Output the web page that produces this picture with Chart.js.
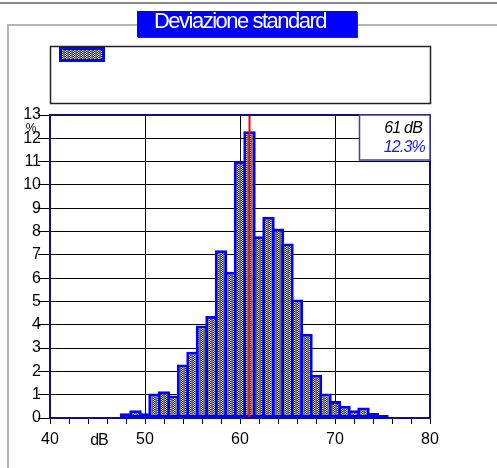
<!DOCTYPE html>
<html>
<head>
<meta charset="utf-8">
<script src="https://cdn.jsdelivr.net/npm/chart.js@4"></script>
<style>
  body { margin: 0; background: #fff; }
  #wrap { width: 497px; height: 468px; }
</style>
</head>
<body>
<div id="wrap"><canvas id="chart" width="497" height="468"></canvas></div>
<script>
// histogram data (dB class centre -> % of time)
const levels = [48, 49, 50, 51, 52, 53, 54, 55, 56, 57, 58, 59, 60, 61, 62, 63, 64, 65, 66, 67, 68, 69, 70, 71, 72, 73, 74, 75];
const percent = [0.2, 0.33, 0.2, 1.05, 1.15, 0.96, 2.3, 2.84, 3.97, 4.38, 7.2, 6.27, 11.0, 12.3, 7.8, 8.63, 8.13, 7.49, 5.08, 3.62, 1.86, 1.05, 0.73, 0.53, 0.33, 0.45, 0.21, 0.13];
const xTickLabels = [40, 50, 60, 70, 80];
const yTickLabels = [0, 1, 2, 3, 4, 5, 6, 7, 8, 9, 10, 11, 12, 13];
const peakLevel = 61;
const peakText = ['61 dB', '12.3%'];
const titleText = 'Deviazione standard';

// dithered grey fill like the original
function makePattern() {
  const c = document.createElement('canvas');
  c.width = 4; c.height = 2;
  const g = c.getContext('2d');
  const px = [['#6a6a6a', '#000', '#fff', '#7a7a7a'], ['#6a6a6a', '#fff', '#000', '#7a7a7a']];
  px.forEach((row, y) => row.forEach((col, x) => { g.fillStyle = col; g.fillRect(x, y, 1, 1); }));
  return c;
}
const ctx = document.getElementById('chart').getContext('2d');
const pattern = ctx.createPattern(makePattern(), 'repeat');

const decor = {
  id: 'decor',
  beforeDraw(chart) {
    const c = chart.ctx;
    c.save();
    // top rule
    c.fillStyle = '#8a8a8a';
    c.fillRect(0, 2, 497, 2);
    // outer grey frame
    c.fillStyle = '#b4b4b4';
    c.fillRect(7, 24, 2, 444);
    c.fillRect(7, 24, 130, 2);
    c.fillRect(357, 24, 140, 2);
    // title box
    c.fillStyle = '#333';
    c.fillRect(138, 12, 220, 26);
    c.fillStyle = '#0000ff';
    c.fillRect(137, 11, 220, 26);
    c.fillStyle = '#fff';
    c.font = '22px "Liberation Sans", Arial, sans-serif';
    c.letterSpacing = '-1.5px';
    c.textAlign = 'center';
    c.textBaseline = 'alphabetic';
    c.fillText(titleText, 240, 28);
    c.letterSpacing = '0px';
    // legend box
    c.strokeStyle = '#222';
    c.lineWidth = 1.5;
    c.strokeRect(50.5, 46.5, 380, 57);
    c.fillStyle = '#0000ff';
    c.fillRect(59, 47, 46, 15);
    c.fillStyle = pattern;
    c.fillRect(62, 50, 40, 9);
    c.restore();
  },
  afterDatasetsDraw(chart) {
    const c = chart.ctx, a = chart.chartArea;
    const xs = chart.scales.x;
    c.save();
    // peak marker
    const px = xs.getPixelForValue(peakLevel);
    c.fillStyle = '#ff0000';
    c.fillRect(px - 1, a.top, 2, a.bottom - a.top);
    // plot frame
    c.strokeStyle = '#10107a';
    c.lineWidth = 2;
    c.strokeRect(a.left, a.top, a.right - a.left, a.bottom - a.top);
    // value box
    c.fillStyle = '#fff';
    c.fillRect(359, a.top, a.right - 359, 45);
    c.strokeStyle = '#4040a0';
    c.lineWidth = 1.5;
    c.strokeRect(359.5, a.top, a.right - 359.5, 45);
    c.font = 'italic 16px "Liberation Sans", Arial, sans-serif';
    c.letterSpacing = '-0.8px';
    c.textAlign = 'right';
    c.fillStyle = '#000';
    c.fillText(peakText[0], 422, 133);
    c.fillStyle = '#1818ff';
    c.fillText(peakText[1], 425, 152);
    c.letterSpacing = '0px';
    // axis captions
    c.fillStyle = '#000';
    c.textAlign = 'center';
    c.font = '16px "Liberation Sans", Arial, sans-serif';
    c.letterSpacing = '-1px';
    c.fillText('dB', 99, 445);
    c.font = '12px "Liberation Sans", Arial, sans-serif';
    c.letterSpacing = '0px';
    c.fillText('%', 31, 132);
    c.restore();
  }
};

new Chart(ctx, {
  type: 'bar',
  data: {
    datasets: [{
      data: levels.map((l, i) => ({ x: l, y: percent[i] })),
      backgroundColor: pattern,
      borderColor: '#0000ff',
      borderWidth: 3,
      borderSkipped: false,
      barPercentage: 1.31,
      categoryPercentage: 1
    }]
  },
  options: {
    responsive: false,
    animation: false,
    layout: { padding: { top: 115, right: 67, left: 0, bottom: 0 } },
    plugins: { legend: { display: false }, tooltip: { enabled: false }, title: { display: false } },
    scales: {
      x: {
        type: 'linear',
        offset: false,
        min: 40,
        max: 80,
        afterFit: s => { s.height = 50; },
        border: { display: false },
        grid: {
          offset: false,
          color: c => (c.tick && xTickLabels.includes(c.tick.value) ? '#000' : 'rgba(0,0,0,0)'),
          tickColor: '#000',
          tickLength: 6,
          lineWidth: 1
        },
        ticks: {
          stepSize: 2,
          autoSkip: false,
          maxRotation: 0,
          padding: 6,
          color: '#000',
          font: { family: '"Liberation Sans", Arial, sans-serif', size: 16 },
          callback: v => (xTickLabels.includes(v) ? String(v) : '')
        }
      },
      y: {
        min: 0,
        max: 13,
        afterFit: s => { s.width = 50; },
        border: { display: false },
        grid: { color: '#000', tickColor: '#000', tickLength: 12, lineWidth: 1 },
        ticks: {
          stepSize: 1,
          padding: -3,
          color: '#000',
          font: { family: '"Liberation Sans", Arial, sans-serif', size: 16 },
          callback: v => (yTickLabels.includes(v) ? String(v) : '')
        }
      }
    }
  },
  plugins: [decor]
});
</script>
</body>
</html>
